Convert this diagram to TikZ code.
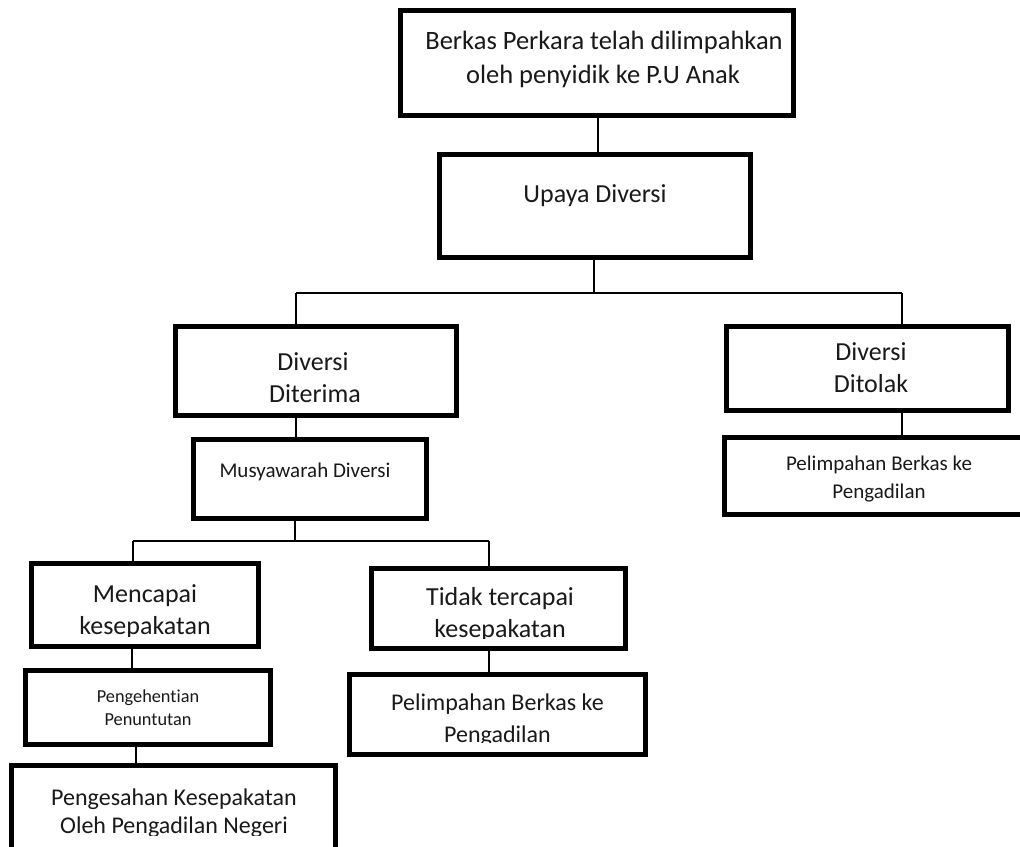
\documentclass[tikz,border=0pt]{standalone}
\usepackage{fontspec}
\setmainfont{Carlito}[RawFeature={-liga;-clig}]
\begin{document}
\begin{tikzpicture}[x=1pt,y=-1pt,
  box/.style={draw=black,line width=5pt,rectangle,inner sep=0pt,outer sep=0pt},
  conn/.style={draw=black,line width=1.5pt},
  txt/.style={inner sep=0pt,outer sep=0pt,anchor=base,text=black!90},
  big/.style={font=\fontsize{26}{31}\selectfont},
  mid/.style={font=\fontsize{24}{29}\selectfont},
  sml/.style={font=\fontsize{21}{25}\selectfont},
  tiny/.style={font=\fontsize{18.3}{22}\selectfont}]
\useasboundingbox (0,0) rectangle (1020,846);
\clip (0,0) rectangle (1020,846);
\fill[white] (0,0) rectangle (1020,846);

% boxes
\node[box,minimum width=393pt,minimum height=105pt] (A) at (597,63) {};
\node[box,minimum width=311pt,minimum height=103pt] (B) at (595,206) {};
\node[box,minimum width=281pt,minimum height=89pt] (C) at (316,371) {};
\node[box,minimum width=233pt,minimum height=79pt] (D) at (310,479) {};
\node[box,minimum width=282pt,minimum height=84pt] (E) at (867.5,368.5) {};
\node[box,minimum width=308pt,minimum height=77pt] (F) at (878.5,476) {};
\node[box,minimum width=227pt,minimum height=83pt] (G) at (145,605) {};
\node[box,minimum width=245pt,minimum height=74pt] (H) at (148,707.5) {};
\node[box,minimum width=324pt,minimum height=102pt] (I) at (173.5,816.5) {};
\node[box,minimum width=254pt,minimum height=80pt] (J) at (498.5,608.5) {};
\node[box,minimum width=296pt,minimum height=80pt] (K) at (497.5,714.5) {};

% bus coordinates
\coordinate (b1L) at (296,293);
\coordinate (b1R) at (902,293);
\coordinate (b1T) at (594,293);
\coordinate (b2L) at (133,541);
\coordinate (b2R) at (489,541);
\coordinate (b2T) at (295,541);

% connectors
\draw[conn] ([xshift=1pt]A.south) -- ([xshift=1pt]A.south |- B.north);
\draw[conn] (b1T |- B.south) -- (b1T);
\draw[conn] (b1L) -- (b1R);
\draw[conn] (b1L) -- (b1L |- C.north);
\draw[conn] (b1R) -- (b1R |- E.north);
\draw[conn] (b1L |- C.south) -- (b1L |- D.north);
\draw[conn] (b1R |- E.south) -- (b1R |- F.north);
\draw[conn] (b2T |- D.south) -- (b2T);
\draw[conn] (b2L) -- (b2R);
\draw[conn] (b2L) -- (b2L |- G.north);
\draw[conn] (b2R) -- (b2R |- J.north);
\draw[conn] ([xshift=-1pt]b2L |- G.south) -- ([xshift=-1pt]b2L |- H.north);
\draw[conn] ([xshift=-12pt]H.south) -- ([xshift=-12pt]H.south |- I.north);
\draw[conn] (b2R |- J.south) -- (b2R |- K.north);

% redraw box borders on top of connector ends
\foreach \n in {A,B,C,D,E,F,G,H,I,J,K}{
  \draw[line width=5pt] (\n.north west) rectangle (\n.south east);
}

% texts
\node[txt,font=\fontsize{26.5}{32}\selectfont] (tA1) at (604,49) {Berkas Perkara telah dilimpahkan};
\node[txt,font=\fontsize{26.5}{32}\selectfont] (tA2) at (603,83) {oleh penyidik ke P.U Anak};
\node[txt,big] (tB) at (595,202) {Upaya Diversi};
\node[txt,big] (tC1) at (313,370) {Diversi};
\node[txt,big] (tC2) at (315,402) {Diterima};
\node[txt,sml] (tD) at (305,477) {Musyawarah Diversi};
\node[txt,big] (tE1) at (871,360) {Diversi};
\node[txt,big] (tE2) at (871,392) {Ditolak};
\node[txt,sml] (tF1) at (879,470) {Pelimpahan Berkas ke};
\node[txt,sml] (tF2) at (879,498) {Pengadilan};
\begin{scope}
\clip (G.north west) rectangle ([yshift=10pt]G.south east);
\node[txt,big] (tG1) at (145,602) {Mencapai};
\node[txt,big] (tG2) at (145,634) {kesepakatan};
\end{scope}
\node[txt,tiny] (tH1) at (148,702) {Pengehentian};
\node[txt,tiny] (tH2) at (148,725) {Penuntutan};
\begin{scope}
\clip (I.north west) rectangle (I.east |- 0,835);
\node[txt,mid] (tI1) at (174,805) {Pengesahan Kesepakatan};
\node[txt,mid] (tI2) at (174,833) {Oleh Pengadilan Negeri};
\end{scope}
\begin{scope}
\clip (J.north west) rectangle ([yshift=10.5pt]J.south east);
\node[txt,big] (tJ1) at (500,605) {Tidak tercapai};
\node[txt,big] (tJ2) at (500,637) {kesepakatan};
\end{scope}
\begin{scope}
\clip (K.north west) rectangle ([yshift=12pt]K.south east);
\node[txt,mid] (tK1) at (497.5,710) {Pelimpahan Berkas ke};
\node[txt,mid] (tK2) at (497.5,742) {Pengadilan};
\end{scope}
\end{tikzpicture}
\end{document}
